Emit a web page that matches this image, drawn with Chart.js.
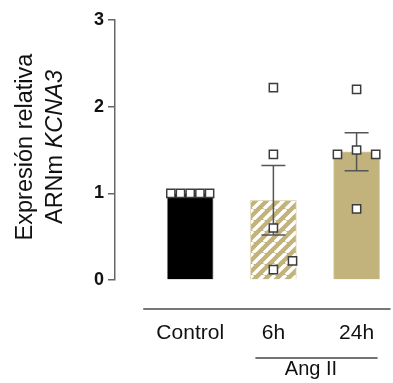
<!DOCTYPE html>
<html><head><meta charset="utf-8">
<script src="https://cdn.jsdelivr.net/npm/chart.js@4"></script>
<style>html,body{margin:0;padding:0;background:#fff}#w{width:393px;height:383px}</style>
</head><body><div id="w"><canvas id="c" width="393" height="383"></canvas></div>
<script>
const categories = ['Control', '6h', '24h'];
const categoryX = [1, 2, 3];
const means = [1.0, 0.92, 1.48];
const sem = [0, 0.40, 0.22];
const controlPoints = [1.0, 1.0, 1.0, 1.0, 1.0];
const controlJitter = [-0.233, -0.117, 0, 0.117, 0.233];
const h6Points = [2.22, 1.45, 0.60, 0.12, 0.22];
const h6Jitter = [0, 0, 0, 0, 0.23];
const h24Points = [2.20, 1.50, 1.45, 1.45, 0.82];
const h24Jitter = [0, 0, -0.23, 0.23, 0];
const yTicks = [0, 1, 2, 3];
const groupLabel = 'Ang II';
const yTitleLine1 = 'Expresión relativa';
const yTitleLine2a = 'ARNm ';
const yTitleLine2b = 'KCNA3';

const KHAKI = '#c1b37b';
function hatch() {
  const s = 11, cv = document.createElement('canvas');
  cv.width = s; cv.height = s;
  const g = cv.getContext('2d');
  g.fillStyle = KHAKI; g.fillRect(0, 0, s, s);
  g.strokeStyle = '#ffffff'; g.lineWidth = 3.4;
  g.beginPath();
  for (let k = -1; k <= 1; k++) { g.moveTo(k * s, s); g.lineTo(k * s + s, 0); }
  g.stroke();
  return g.createPattern(cv, 'repeat');
}

const points = [];
[[controlPoints, controlJitter], [h6Points, h6Jitter], [h24Points, h24Jitter]].forEach(([vals, jit], i) => {
  vals.forEach((v, j) => points.push({ x: categoryX[i] + jit[j], y: v }));
});

const FONT = '"Liberation Sans", Arial, sans-serif';

const deco = {
  id: 'deco',
  afterDatasetDraw(chart, args) {
    if (args.index !== 0) return;
    const xs = chart.scales.x, ys = chart.scales.y, c = chart.ctx;
    c.save(); c.strokeStyle = '#555'; c.lineWidth = 1.5;
    means.forEach((m, i) => {
      if (!sem[i]) return;
      const px = xs.getPixelForValue(categoryX[i]);
      const t = ys.getPixelForValue(m + sem[i]), b = ys.getPixelForValue(m - sem[i]);
      c.beginPath();
      c.moveTo(px, t); c.lineTo(px, b);
      c.moveTo(px - 12, t); c.lineTo(px + 12, t);
      c.moveTo(px - 12, b); c.lineTo(px + 12, b);
      c.stroke();
    });
    c.restore();
  },
  afterDraw(chart) {
    const xs = chart.scales.x, c = chart.ctx, area = chart.chartArea;
    c.save();
    c.strokeStyle = '#777'; c.lineWidth = 2;
    c.beginPath();
    c.moveTo(xs.getPixelForValue(categoryX[0]) - 47, area.bottom + 29);
    c.lineTo(xs.getPixelForValue(categoryX[2]) + 34, area.bottom + 29);
    c.stroke();
    const p2 = xs.getPixelForValue(categoryX[1]), p3 = xs.getPixelForValue(categoryX[2]);
    c.strokeStyle = '#444'; c.lineWidth = 1.5;
    c.beginPath();
    c.moveTo(p2 - 18, area.bottom + 78); c.lineTo(p3 + 21, area.bottom + 78);
    c.stroke();
    c.fillStyle = '#111'; c.font = '20px ' + FONT; c.textAlign = 'center'; c.textBaseline = 'alphabetic';
    c.fillText(groupLabel, (p2 + p3) / 2 - 4, area.bottom + 95);
    const cy = (area.top + area.bottom) / 2 - 3;
    c.save();
    c.translate(32, cy); c.rotate(-Math.PI / 2);
    c.font = '23.5px ' + FONT; c.textAlign = 'center';
    c.fillText(yTitleLine1, 0, 0);
    c.restore();
    c.save();
    c.translate(61.5, cy); c.rotate(-Math.PI / 2);
    const fN = '23.5px ' + FONT, fI = 'italic 23.5px ' + FONT;
    c.font = fN; const wa = c.measureText(yTitleLine2a).width;
    c.font = fI; const wb = c.measureText(yTitleLine2b).width;
    const x0 = -(wa + wb) / 2;
    c.textAlign = 'left';
    c.font = fN; c.fillText(yTitleLine2a, x0, 0);
    c.font = fI; c.fillText(yTitleLine2b, x0 + wa, 0);
    c.restore();
    c.restore();
  }
};

new Chart(document.getElementById('c'), {
  data: {
    datasets: [
      {
        type: 'bar',
        data: categoryX.map((x, i) => ({ x, y: means[i] })),
        backgroundColor: ['#000000', hatch(), KHAKI],
        borderColor: ['#8a8a8a', '#e2dbbd', '#d3c89f'],
        borderWidth: 1,
        barThickness: 46,
        order: 2
      },
      {
        type: 'scatter',
        data: points,
        pointStyle: 'rect',
        pointRadius: 5.8,
        backgroundColor: '#ffffff',
        borderColor: '#3c3c3c',
        borderWidth: 1.5,
        order: 1
      }
    ]
  },
  options: {
    responsive: false,
    animation: false,
    events: [],
    layout: { padding: { left: 0, right: 3, top: 20, bottom: 0 } },
    plugins: { legend: { display: false }, tooltip: { enabled: false } },
    scales: {
      x: {
        type: 'linear', min: 0.096, max: 3.35, offset: false,
        afterFit: s => { s.height = 103; },
        afterBuildTicks: s => { s.ticks = categoryX.map(v => ({ value: v })); },
        grid: { display: true, drawOnChartArea: false, drawTicks: true, tickLength: 38, color: 'rgba(0,0,0,0)', offset: false },
        border: { display: false },
        ticks: {
          autoSkip: false, maxRotation: 0, padding: 3,
          color: '#111', font: { family: FONT, size: 21 },
          callback: (v) => categories[categoryX.indexOf(v)]
        }
      },
      y: {
        min: 0, max: 3,
        afterFit: s => { s.width = 115; },
        afterBuildTicks: s => { s.ticks = yTicks.map(v => ({ value: v })); },
        grid: { drawOnChartArea: false, drawTicks: true, tickLength: 7, color: '#666', lineWidth: 1.5 },
        border: { display: true, color: '#666', width: 1.5 },
        ticks: { padding: 4, color: '#111', font: { family: FONT, size: 18, weight: 'bold' } }
      }
    }
  },
  plugins: [deco]
});
</script>
</body></html>
